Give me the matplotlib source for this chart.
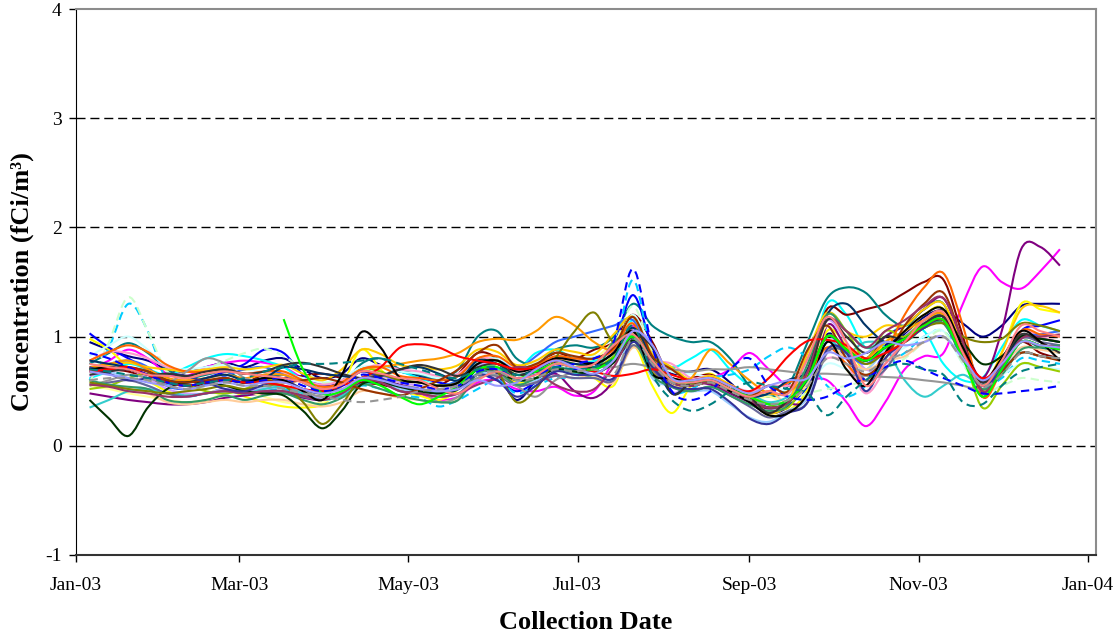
import numpy as np
import matplotlib
matplotlib.use("Agg")
import matplotlib.pyplot as plt
import matplotlib.dates as mdates
from matplotlib.path import Path
from matplotlib.patches import PathPatch
import datetime as dt

plt.rcParams['font.family'] = ['Liberation Serif', 'DejaVu Serif']
plt.rcParams['axes.unicode_minus'] = False

# weekly samples, first collection 6 Jan 2003
start = dt.date(2003, 1, 6)
nan = np.nan

s01 = [0.95,0.88,0.82,0.78,0.70,0.68,0.72,0.76,0.72,0.78, 0.80,0.70,0.62,0.66,0.80,0.74,0.68,0.64,0.60,0.64, 0.78,0.66,0.42,0.60,0.76,0.80,0.76,0.86,1.00,0.76, 0.66,0.68,0.70,0.58,0.40,0.30,0.36,0.60,1.02,0.88, 0.78,0.92,1.02,1.18,1.24,1.12,1.00,1.10,1.28,1.30,1.30]
s02 = [0.70,0.78,0.88,0.80,0.66,0.64,0.72,0.76,0.78,0.76, 0.72,0.62,0.56,0.52,0.56,0.62,0.55,0.48,0.42,0.45, 0.58,0.60,0.52,0.50,0.54,0.46,0.50,0.78,1.10,0.75, 0.55,0.60,0.62,0.70,0.85,0.70,0.55,0.60,0.60,0.40, 0.18,0.40,0.70,0.82,0.85,1.30,1.64,1.50,1.44,1.60,1.80]
s03 = [0.98,0.88,0.72,0.60,0.50,0.46,0.48,0.52,0.45,0.40, 0.36,0.35,0.38,0.55,0.88,0.70,0.52,0.46,0.42,0.52, 0.80,0.72,0.58,0.62,0.80,0.72,0.62,0.55,0.92,0.55, 0.30,0.55,0.66,0.50,0.42,0.28,0.32,0.52,1.05,0.92, 0.70,0.95,1.05,1.20,1.25,0.80,0.50,0.85,1.30,1.25,1.22]
s04 = [0.62,0.68,0.75,0.70,0.65,0.72,0.80,0.84,0.82,0.78, 0.72,0.60,0.52,0.58,0.70,0.72,0.68,0.62,0.55,0.60, 0.75,0.80,0.70,0.85,0.88,0.80,0.78,0.85,1.15,0.85, 0.72,0.80,0.88,0.70,0.55,0.45,0.50,0.65,1.30,1.20, 0.90,1.00,1.10,1.05,0.75,0.60,0.62,0.90,1.15,1.10,1.05]
s05 = [0.48,0.45,0.42,0.40,0.38,0.38,0.40,0.44,0.46,0.48, 0.48,0.44,0.42,0.48,0.58,0.60,0.56,0.52,0.48,0.52, 0.66,0.68,0.56,0.58,0.66,0.50,0.44,0.60,0.98,0.76, 0.58,0.58,0.56,0.48,0.40,0.34,0.38,0.45,1.10,0.90, 0.80,1.00,1.10,1.25,1.35,0.95,0.62,1.05,1.80,1.82,1.65]
s06 = [0.72,0.70,0.68,0.62,0.55,0.52,0.58,0.62,0.58,0.65, 0.62,0.64,0.66,0.62,0.58,0.56,0.52,0.48,0.55,0.66, 0.85,0.80,0.62,0.70,0.85,0.80,0.88,0.95,1.20,0.95, 0.60,0.62,0.65,0.55,0.48,0.55,0.50,0.70,1.25,1.20, 1.25,1.30,1.40,1.50,1.52,1.00,0.45,0.75,0.95,0.85,0.80]
s07 = [0.75,0.85,0.94,0.85,0.70,0.62,0.65,0.68,0.60,0.62, 0.65,0.58,0.50,0.55,0.75,0.80,0.70,0.65,0.62,0.70, 1.00,1.05,0.80,0.75,0.88,0.92,0.90,1.00,1.30,1.10, 1.00,0.95,0.95,0.80,0.55,0.45,0.55,0.95,1.35,1.45, 1.40,1.20,1.10,1.25,1.30,0.85,0.45,0.70,0.95,0.90,0.85]
s08 = [1.03,0.90,0.80,0.70,0.62,0.58,0.62,0.68,0.75,0.88, 0.85,0.65,0.55,0.58,0.68,0.65,0.60,0.62,0.58,0.55, 0.65,0.60,0.50,0.58,0.68,0.70,0.72,0.90,1.38,0.90, 0.62,0.58,0.60,0.52,0.45,0.35,0.38,0.55,0.95,0.80, 0.60,0.85,0.95,1.15,1.20,0.80,0.48,0.70,1.05,1.10,1.15]
s09 = [0.60,0.90,1.30,1.05,0.58,0.46,0.48,0.52,0.48,0.50, 0.52,0.46,0.42,0.46,0.55,0.52,0.46,0.44,0.36,0.42, 0.52,0.60,0.48,0.55,0.62,0.62,0.66,0.82,1.52,0.80, 0.50,0.52,0.62,0.65,0.70,0.82,0.90,0.80,0.55,0.45, 0.55,0.75,0.85,1.00,1.05,0.80,0.55,0.62,0.80,0.78,0.75]
s10 = [0.82,0.92,1.00,0.88,0.72,0.70,0.72,0.74,0.70,0.68, 0.66,0.62,0.58,0.62,0.72,0.72,0.68,0.66,0.62,0.66, 0.76,0.80,0.72,0.76,0.82,0.80,0.82,0.88,1.20,0.85, 0.68,0.66,0.62,0.54,0.48,0.55,0.50,0.55,0.75,0.70, 0.65,0.80,0.90,1.00,1.05,0.75,0.60,0.65,0.75,0.72,0.70]
s11 = [0.58,0.95,1.36,1.05,0.68,0.62,0.70,0.78,0.85,0.89, 0.82,0.70,0.58,0.60,0.70,0.68,0.62,0.60,0.55,0.58, 0.68,0.72,0.62,0.68,0.75,0.72,0.75,0.90,1.28,0.85, 0.60,0.58,0.60,0.50,0.42,0.40,0.42,0.48,0.52,0.55, 0.60,0.70,0.80,0.95,1.05,0.75,0.50,0.55,0.62,0.60,0.58]
s12 = [0.55,0.52,0.48,0.45,0.42,0.40,0.42,0.48,0.50,0.45, 0.40,0.38,0.40,0.48,0.60,0.62,0.58,0.55,0.52,0.55, 0.70,0.75,0.65,0.68,0.75,0.78,0.80,0.95,1.12,0.80, 0.58,0.55,0.58,0.50,0.42,0.45,0.40,0.58,1.10,0.70, 0.60,0.80,1.00,1.15,1.22,0.85,0.55,0.75,1.05,1.00,0.95]
s13 = [0.72,0.68,0.62,0.55,0.48,0.46,0.48,0.52,0.50,0.54, 0.54,0.48,0.44,0.50,0.62,0.58,0.52,0.50,0.48,0.52, 0.66,0.64,0.56,0.60,0.70,0.66,0.62,0.62,1.00,0.62, 0.55,0.50,0.50,0.38,0.26,0.22,0.32,0.45,1.00,0.82, 0.70,0.88,0.98,1.10,1.18,0.85,0.60,0.72,0.95,0.92,0.90]
s14 = [0.78,0.86,0.85,0.80,0.72,0.68,0.70,0.70,0.66,0.68, 0.66,0.60,0.56,0.60,0.70,0.74,0.70,0.68,0.64,0.66, 0.80,0.78,0.70,0.72,0.80,0.78,0.80,0.86,1.04,0.80, 0.75,0.62,0.64,0.56,0.50,0.55,0.55,0.62,0.80,0.75, 0.48,0.70,0.95,1.10,1.15,0.80,0.55,0.78,1.05,1.00,0.95]
s15 = [0.64,0.68,0.70,0.62,0.52,0.48,0.48,0.52,0.50,0.52, 0.54,0.48,0.44,0.50,0.62,0.64,0.58,0.55,0.52,0.56, 0.74,0.72,0.62,0.66,0.74,0.72,0.70,0.80,1.06,0.92, 0.50,0.58,0.60,0.52,0.45,0.38,0.43,0.80,1.15,0.95, 0.70,0.75,1.00,1.12,1.18,0.82,0.55,0.72,1.00,0.98,0.95]
s16 = [0.58,0.55,0.52,0.48,0.40,0.38,0.40,0.42,0.40,0.42, 0.42,0.38,0.36,0.40,0.50,0.48,0.44,0.42,0.40,0.44, 0.62,0.64,0.56,0.58,0.64,0.62,0.64,0.58,0.90,0.70, 0.56,0.55,0.58,0.52,0.46,0.50,0.40,0.58,0.90,0.80, 0.70,0.78,0.82,0.95,1.00,0.80,0.60,0.72,0.90,0.88,0.85]
s17 = [0.70,0.75,0.78,0.72,0.55,0.52,0.56,0.64,0.70,0.72, 0.65,0.58,0.50,0.55,0.68,0.65,0.60,0.58,0.55,0.60, 0.75,0.78,0.70,0.82,0.95,1.00,1.05,1.10,1.15,0.82, 0.62,0.60,0.62,0.52,0.45,0.38,0.42,0.62,1.00,0.85, 0.75,0.90,1.00,1.12,1.18,0.82,0.52,0.70,0.98,1.02,1.05]
s18 = [0.35,0.42,0.50,0.52,0.48,0.46,0.48,0.50,0.48,0.52, 0.54,0.48,0.42,0.46,0.56,0.58,0.54,0.52,0.48,0.52, 0.66,0.70,0.60,0.62,0.70,0.66,0.70,0.78,1.02,0.78, 0.62,0.60,0.62,0.55,0.48,0.40,0.45,0.60,0.95,0.85, 0.95,0.90,0.60,0.45,0.55,0.65,0.55,0.70,0.85,0.82,0.80]
s19 = [0.52,0.55,0.62,0.66,0.62,0.56,0.50,0.48,0.52,0.60, 0.60,0.52,0.48,0.55,0.70,0.68,0.60,0.58,0.55,0.58, 0.75,0.78,0.65,0.70,0.78,0.75,0.72,0.82,1.02,0.68, 0.60,0.58,0.60,0.52,0.45,0.38,0.35,0.65,1.20,1.05, 0.80,1.05,1.00,1.15,1.20,0.85,0.35,0.55,0.75,0.72,0.68]
s20 = [0.70,0.74,0.76,0.72,0.70,0.68,0.70,0.72,0.70,0.72, 0.74,0.66,0.60,0.70,0.88,0.84,0.74,0.72,0.70,0.74, 0.88,0.86,0.74,0.78,0.88,0.86,0.84,1.02,1.18,0.84, 0.72,0.60,0.64,0.56,0.46,0.30,0.40,0.85,1.22,1.05, 1.00,1.10,1.10,1.25,1.30,0.90,0.55,0.85,1.25,1.28,1.22]
s21 = [0.72,0.75,0.78,0.70,0.62,0.60,0.62,0.65,0.62,0.65, 0.65,0.58,0.52,0.58,0.70,0.72,0.75,0.78,0.80,0.85, 0.95,0.98,0.97,1.05,1.18,1.10,0.95,0.88,1.05,0.80, 0.60,0.62,0.88,0.75,0.60,0.48,0.50,0.65,1.00,0.90, 0.80,0.95,1.05,1.15,1.20,0.85,0.55,0.72,0.95,0.92,0.90]
s22 = [0.78,0.86,0.92,0.86,0.74,0.68,0.68,0.70,0.66,0.68, 0.68,0.60,0.54,0.58,0.70,0.72,0.64,0.62,0.60,0.64, 0.80,0.82,0.72,0.74,0.82,0.80,0.80,0.88,1.12,0.70, 0.62,0.60,0.62,0.55,0.48,0.50,0.58,0.65,0.90,0.75, 0.60,0.85,1.20,1.45,1.58,1.10,0.45,0.70,1.05,1.02,1.00]
s23 = [0.56,0.58,0.60,0.55,0.48,0.45,0.48,0.50,0.48,0.50, 0.50,0.45,0.42,0.48,0.60,0.58,0.50,0.48,0.45,0.48, 0.62,0.64,0.55,0.58,0.64,0.62,0.62,0.60,0.92,0.70, 0.54,0.50,0.54,0.46,0.36,0.26,0.32,0.40,0.85,0.85, 0.60,0.70,0.95,1.08,1.12,0.80,0.55,0.72,0.98,0.95,0.92]
s24 = [0.55,0.60,0.65,0.62,0.58,0.68,0.80,0.75,0.62,0.58, 0.55,0.50,0.45,0.50,0.62,0.60,0.55,0.52,0.40,0.45, 0.62,0.65,0.55,0.45,0.60,0.68,0.72,0.72,0.75,0.72, 0.70,0.68,0.70,0.70,0.72,0.70,0.68,0.66,0.66,0.65, 0.64,0.63,0.62,0.60,0.58,0.55,0.52,0.68,0.85,0.82,0.80]
s25 = [0.78,0.75,0.72,0.68,0.60,0.58,0.62,0.65,0.60,0.62, 0.72,0.70,0.66,0.64,0.62,0.64,0.70,0.72,0.66,0.60, 0.78,0.75,0.65,0.70,0.78,0.75,0.75,0.85,1.08,0.80, 0.48,0.58,0.60,0.52,0.45,0.48,0.60,0.70,1.20,1.30, 1.10,0.95,0.98,1.10,1.18,0.85,0.58,0.75,1.00,0.98,0.95]
s26 = [0.60,0.56,0.54,0.52,0.42,0.40,0.42,0.46,0.42,0.46, 0.48,0.42,0.38,0.44,0.56,0.52,0.46,0.42,0.40,0.42, 0.66,0.68,0.56,0.62,0.72,0.68,0.66,0.95,0.98,0.65, 0.54,0.50,0.54,0.46,0.38,0.32,0.38,0.75,1.20,1.05, 0.90,0.95,0.95,1.08,1.12,0.80,0.52,0.65,0.88,0.90,0.92]
s27 = [0.42,0.25,0.09,0.35,0.52,0.58,0.58,0.55,0.50,0.48, 0.46,0.32,0.16,0.32,0.56,0.58,0.54,0.50,0.48,0.52, 0.70,0.68,0.60,0.62,0.70,0.68,0.66,0.76,0.96,0.74, 0.58,0.55,0.58,0.50,0.42,0.35,0.40,0.62,1.00,0.88, 0.78,0.90,0.98,1.10,1.15,0.95,0.75,0.82,1.00,0.98,0.95]
s28 = [0.58,0.55,0.52,0.50,0.48,0.50,0.52,0.55,0.52,0.55, 0.55,0.40,0.20,0.38,0.62,0.65,0.60,0.58,0.55,0.58, 0.70,0.68,0.40,0.52,0.80,1.05,1.22,0.95,1.05,0.75, 0.58,0.55,0.58,0.50,0.42,0.35,0.40,0.62,1.00,0.88, 0.75,0.85,0.95,1.08,1.12,1.00,0.95,0.98,1.12,1.10,1.05]
s29 = [0.68,0.70,0.72,0.68,0.60,0.58,0.60,0.62,0.58,0.60, 0.58,0.60,0.62,0.58,0.52,0.48,0.46,0.52,0.60,0.70, 0.85,0.92,0.72,0.75,0.85,0.82,0.80,0.90,1.18,0.82, 0.70,0.58,0.60,0.52,0.45,0.55,0.50,0.88,1.10,0.80, 0.65,0.80,1.10,1.30,1.40,0.95,0.50,0.68,0.85,0.82,0.78]
s30 = [0.56,0.54,0.50,0.48,0.45,0.45,0.48,0.50,0.48,0.50, 0.50,0.46,0.42,0.48,0.60,0.58,0.50,0.48,0.45,0.48, 0.56,0.62,0.72,0.68,0.56,0.50,0.52,0.72,1.00,0.75, 0.58,0.55,0.58,0.50,0.42,0.35,0.40,0.68,1.15,1.05, 0.90,1.05,1.15,1.28,1.35,0.95,0.50,0.70,0.98,1.00,1.02]
s31 = [0.72,0.66,0.60,0.62,0.66,0.64,0.58,0.52,0.50,0.56, 0.60,0.52,0.48,0.55,0.68,0.62,0.55,0.52,0.50,0.52, 0.65,0.60,0.45,0.55,0.68,0.65,0.65,0.62,0.95,0.72, 0.55,0.52,0.52,0.40,0.25,0.20,0.30,0.40,0.88,0.85, 0.50,0.80,0.95,1.08,1.15,0.82,0.55,0.70,0.95,0.92,0.90]
s32 = [0.65,0.68,0.70,0.65,0.66,0.64,0.68,0.70,0.66,0.68, 0.74,0.76,0.72,0.66,0.62,0.64,0.70,0.74,0.70,0.64, 0.72,0.75,0.65,0.68,0.75,0.72,0.72,0.80,1.00,0.90, 0.48,0.58,0.60,0.52,0.45,0.30,0.42,0.62,1.15,1.00, 0.85,1.00,0.98,1.12,1.18,0.85,0.58,0.78,1.02,0.95,0.85]
s33 = [0.70,0.72,0.70,0.65,0.58,0.55,0.58,0.60,0.58,0.62, 0.60,0.50,0.42,0.65,1.04,0.90,0.62,0.58,0.55,0.58, 0.75,0.78,0.68,0.72,0.80,0.78,0.75,0.85,1.05,0.66, 0.62,0.58,0.60,0.50,0.40,0.28,0.30,0.48,0.95,0.70, 0.55,0.85,1.05,1.20,1.25,0.90,0.60,0.80,1.05,0.95,0.78]
s34 = [0.68,0.70,0.72,0.65,0.58,0.55,0.58,0.60,0.58,0.58, 0.55,0.52,0.50,0.55,0.62,0.72,0.90,0.93,0.90,0.82, 0.78,0.75,0.70,0.72,0.78,0.72,0.68,0.64,0.66,0.70, 0.65,0.60,0.62,0.55,0.50,0.62,0.82,0.96,0.97,0.92, 0.80,0.85,0.95,1.10,1.15,0.85,0.62,0.75,0.95,0.92,0.90]
s35 = [nan,nan,nan,nan,nan,nan,nan,nan,nan,nan, 1.16,0.70,0.48,0.50,0.60,0.55,0.45,0.38,0.45,0.55, 0.70,0.72,0.62,0.68,0.75,0.72,0.70,0.80,1.00,0.78, 0.60,0.58,0.60,0.52,0.45,0.38,0.42,0.62,1.00,0.88, 0.78,0.90,0.98,1.10,1.15,0.80,0.45,0.70,0.95,0.92,0.88]
s36 = [0.85,0.80,0.72,0.65,0.58,0.55,0.58,0.60,0.58,0.60, 0.62,0.55,0.50,0.55,0.65,0.62,0.58,0.55,0.52,0.55, 0.68,0.70,0.62,0.65,0.72,0.75,0.80,0.95,1.62,0.90, 0.50,0.42,0.50,0.70,0.80,0.55,0.45,0.42,0.45,0.55, 0.62,0.72,0.78,0.70,0.62,0.55,0.48,0.48,0.50,0.52,0.55]
s37 = [0.70,0.68,0.65,0.62,0.58,0.55,0.58,0.60,0.62,0.68, 0.72,0.75,0.75,0.76,0.78,0.80,0.75,0.70,0.65,0.62, 0.70,0.72,0.65,0.68,0.72,0.70,0.72,0.80,1.10,0.65, 0.42,0.32,0.38,0.50,0.58,0.55,0.52,0.48,0.28,0.45, 0.60,0.72,0.75,0.70,0.65,0.40,0.38,0.55,0.68,0.72,0.75]
s38 = [0.75,0.72,0.70,0.65,0.64,0.62,0.66,0.68,0.66,0.64, 0.62,0.58,0.52,0.56,0.68,0.66,0.62,0.60,0.52,0.48, 0.60,0.68,0.62,0.65,0.75,0.72,0.75,0.92,1.02,0.78, 0.60,0.58,0.60,0.52,0.45,0.50,0.48,0.80,1.18,0.95, 0.55,0.75,0.95,1.15,1.22,0.85,0.55,0.78,1.10,1.05,1.00]
s39 = [0.68,0.65,0.62,0.58,0.55,0.52,0.55,0.58,0.55,0.58, 0.58,0.52,0.48,0.52,0.62,0.60,0.55,0.52,0.50,0.52, 0.60,0.55,0.58,0.70,0.78,0.72,0.66,0.78,1.05,0.92, 0.62,0.60,0.62,0.55,0.48,0.55,0.60,0.62,0.85,0.80, 0.85,0.95,0.92,0.95,1.00,0.80,0.60,0.75,0.95,0.92,0.90]
s40 = [0.60,0.62,0.62,0.60,0.55,0.52,0.55,0.58,0.55,0.55, 0.52,0.48,0.45,0.42,0.40,0.42,0.45,0.50,0.52,0.55, 0.65,0.68,0.60,0.62,0.70,0.68,0.70,0.65,0.98,0.75, 0.58,0.55,0.58,0.50,0.42,0.38,0.42,0.55,0.80,0.75, 0.68,0.78,0.85,0.95,1.00,0.78,0.55,0.65,0.85,0.82,0.80]

series = [s01, s02, s03, s04, s05, s06, s07, s08, s09, s10,
          s11, s12, s13, s14, s15, s16, s17, s18, s19, s20,
          s21, s22, s23, s24, s25, s26, s27, s28, s29, s30,
          s31, s32, s33, s34, s35, s36, s37, s38, s39, s40]

colors = ['#000080', '#FF00FF', '#FFFF00', '#00FFFF', '#800080', '#800000', '#008080', '#0000FF',
          '#00CCFF', '#CCFFFF', '#CCFFCC', '#FFFF99', '#99CCFF', '#FF99CC', '#CC99FF', '#FFCC99',
          '#3366FF', '#33CCCC', '#99CC00', '#FFCC00', '#FF9900', '#FF6600', '#666699', '#969696',
          '#003366', '#339966', '#003300', '#808000', '#993300', '#993366', '#333399', '#333333',
          '#000000', '#FF0000', '#00FF00', '#0000FF', '#008080', '#FF8080', '#9999FF', '#969696']
dashed = [9, 11, 36, 37, 40]   # 1-based series numbers drawn dashed


def smooth_path(x, y):
    # Excel-like smoothed line: cubic bezier through every sample
    verts, codes = [], []
    ok = np.isfinite(y)
    i = 0
    n = len(y)
    while i < n:
        if not ok[i]:
            i += 1
            continue
        j = i
        while j < n and ok[j]:
            j += 1
        p = np.column_stack([x[i:j], y[i:j]])
        m = len(p)
        if m >= 2:
            verts.append(p[0]); codes.append(Path.MOVETO)
            for k in range(m - 1):
                p0 = p[k - 1] if k > 0 else p[k]
                p3 = p[k + 2] if k + 2 < m else p[k + 1]
                c1 = p[k] + (p[k + 1] - p0) / 6.0
                c2 = p[k + 1] - (p3 - p[k]) / 6.0
                verts += [c1, c2, p[k + 1]]
                codes += [Path.CURVE4] * 3
        i = j
    return Path(verts, codes)


fig = plt.figure(figsize=(11.13, 6.36), dpi=100)
ax = fig.add_axes([0.068, 0.1274, 0.9167, 0.8584])

for idx, vals in enumerate(series):
    v = np.array(vals, dtype=float)
    d = [start + dt.timedelta(days=7 * k) for k in range(len(v))]
    xs = mdates.date2num(d)
    ls = (0, (4, 2.5)) if (idx + 1) in dashed else '-'
    patch = PathPatch(smooth_path(xs, v), fill=False, edgecolor=colors[idx],
                      lw=1.5, linestyle=ls, zorder=3)
    ax.add_patch(patch)

ax.set_xlim(mdates.date2num(dt.date(2003, 1, 1)), mdates.date2num(dt.date(2004, 1, 4)))
ax.set_ylim(-1, 4)
ax.set_yticks([-1, 0, 1, 2, 3, 4])
ax.xaxis.set_major_locator(mdates.MonthLocator(bymonth=[1, 3, 5, 7, 9, 11]))
ax.xaxis.set_major_formatter(mdates.DateFormatter('%b-%y'))

for yv in [0, 1, 2, 3]:
    ax.axhline(yv, color='black', lw=1.0, linestyle=(0, (6.5, 3.5)), zorder=1)

ax.spines['left'].set_color('black')
ax.spines['bottom'].set_color('#333333')
ax.spines['bottom'].set_linewidth(1.5)
ax.spines['top'].set_color('#8c8c8c')
ax.spines['right'].set_color('#8c8c8c')
ax.spines['top'].set_linewidth(1.5)
ax.spines['right'].set_linewidth(1.5)
ax.tick_params(direction='out', length=5, width=1, labelsize=14, top=False, right=False)
ax.tick_params(axis='x', pad=11)
ax.tick_params(axis='y', pad=5)

fig.text(0.0198, 0.557, 'Concentration (fCi/m³)', rotation=90, ha='center', va='center',
         fontsize=19, fontweight='bold')
fig.text(0.5265, 0.022, 'Collection Date', ha='center', va='center',
         fontsize=19, fontweight='bold')

fig.savefig('out.png', dpi=100)
